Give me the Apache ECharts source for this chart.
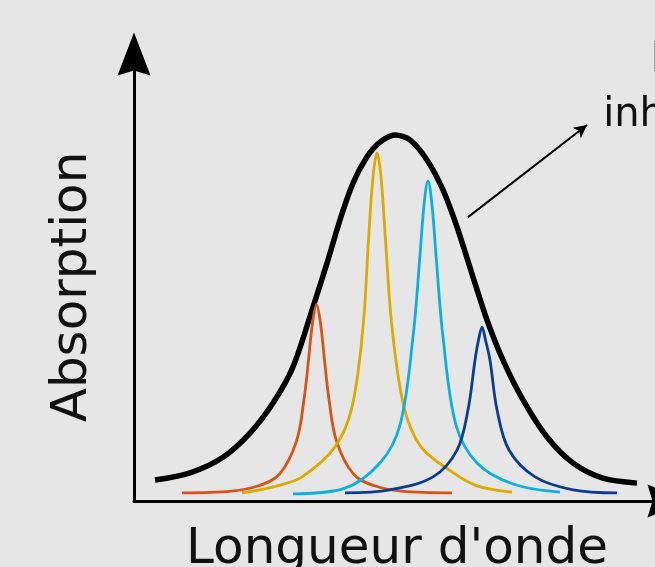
<!DOCTYPE html>
<html>
<head>
<meta charset="utf-8">
<script src="https://cdn.jsdelivr.net/npm/echarts@6/dist/echarts.min.js"></script>
<style>
  html, body { margin: 0; padding: 0; background: #e6e6e6; }
  #chart { width: 655px; height: 567px; }
</style>
</head>
<body>
<div id="chart"></div>
<script>
  // arbitrary units
  const xMax = 107;
  const yMax = 100;

  const envelope = [[4.2, 4.7], [11.2, 6.3], [17.8, 9.8], [23.2, 15.2], [27.8, 21.9], [31.8, 30.0], [35.8, 43.4],
    [38.6, 53.2], [41.2, 62.9], [43.8, 71.1], [46.6, 77.0], [49.2, 80.3], [52.2, 81.9], [55.2, 80.8], [58.6, 76.3],
    [61.8, 69.6], [64.6, 61.3], [67.8, 50.1], [70.6, 40.5], [73.8, 31.5], [77.8, 22.6], [82.6, 14.3], [87.8, 8.5],
    [93.8, 5.1], [100.6, 4.0]];
  const orangePeak = [[9.6, 1.8], [19.5, 2.2], [24.9, 3.4], [29.1, 6.0], [32.5, 13.4], [34.0, 22.7], [34.9, 31.5],
    [35.7, 39.8], [36.5, 43.9], [37.3, 39.8], [38.1, 31.5], [39.0, 22.7], [40.5, 13.4], [43.9, 6.0], [48.1, 3.4],
    [53.5, 2.2], [63.6, 1.8]];
  const yellowPeak = [[21.6, 1.8], [28.6, 3.4], [33.6, 5.4], [40.2, 12.1], [43.6, 21.0], [45.8, 38.9], [46.9, 58.4],
    [47.8, 72.5], [48.6, 77.9], [49.4, 72.5], [50.3, 58.4], [51.6, 38.9], [54.0, 21.0], [57.4, 12.1], [63.6, 6.5],
    [68.6, 3.4], [75.6, 2.0]];
  const cyanPeak = [[31.8, 1.6], [41.8, 2.7], [49.2, 8.5], [53.2, 17.0], [55.8, 36.7], [57.2, 55.0], [58.0, 66.2],
    [58.8, 71.6], [59.6, 66.2], [60.4, 55.0], [61.8, 36.7], [64.4, 17.0], [68.6, 8.5], [75.8, 3.8], [85.2, 2.0]];
  const navyPeak = [[42.2, 1.8], [51.2, 2.5], [59.8, 5.4], [64.6, 11.4], [66.8, 20.4], [68.2, 31.5], [68.9, 36.0],
    [69.6, 38.9], [70.3, 36.0], [71.2, 31.5], [72.6, 20.4], [75.0, 11.4], [80.2, 5.4], [87.8, 2.5], [96.6, 1.8]];
  const pointerFrom = [66.8, 63.5];
  const pointerTo = [90.6, 84.1];

  const xTitle = "Longueur d'onde";
  const yTitle = "Absorption";
  const note = "Largeur\ninhomogène";

  const arrowPath = "path://M16.5,0 L33,43 L16.5,38 L0,43 Z";
  const font = "DejaVu Sans";

  function axis(max) {
    return {
      type: "value", min: 0, max,
      axisLine: { show: true, symbol: ["none", arrowPath], symbolSize: [33, 43],
        lineStyle: { color: "#000", width: 3 } },
      axisTick: { show: false }, axisLabel: { show: false }, splitLine: { show: false }
    };
  }

  function curve(data, color, width, smooth) {
    return { type: "line", data, smooth, showSymbol: false, silent: true,
      lineStyle: { color, width }, z: width > 4 ? 2 : 3 };
  }

  const chart = echarts.init(document.getElementById("chart"), null, { renderer: "canvas" });
  const envelopeSeries = curve(envelope, "#000", 5.5, 0.3);
  envelopeSeries.markLine = {
    silent: true, symbol: ["none", "arrow"], symbolSize: [10, 13], label: { show: false },
    lineStyle: { color: "#000", width: 2, type: "solid" },
    data: [[{ coord: pointerFrom }, { coord: pointerTo }]]
  };

  chart.setOption({
    animation: false,
    backgroundColor: "#e6e6e6",
    grid: { left: 134, top: 54, width: 535, height: 447, containLabel: false, outerBoundsMode: "none" },
    xAxis: axis(xMax),
    yAxis: axis(yMax),
    series: [
      envelopeSeries,
      curve(orangePeak, "#d95319", 2.8, 0.35),
      curve(yellowPeak, "#ddaa00", 2.8, 0.35),
      curve(cyanPeak, "#0cb0de", 2.8, 0.35),
      curve(navyPeak, "#0a3d8f", 2.8, 0.35)
    ],
    graphic: [
      { type: "text", x: 73, y: 287, rotation: Math.PI / 2,
        style: { text: yTitle, font: "50px " + font, fill: "#111", align: "center", verticalAlign: "middle" } },
      { type: "text", x: 397, y: 550,
        style: { text: xTitle, font: "50px " + font, fill: "#111", align: "center", verticalAlign: "middle" } },
      { type: "text", x: 728, y: 88,
        style: { text: note, font: "40px " + font, lineHeight: 55, fill: "#111", align: "center", verticalAlign: "middle" } }
    ]
  });
</script>
</body>
</html>
